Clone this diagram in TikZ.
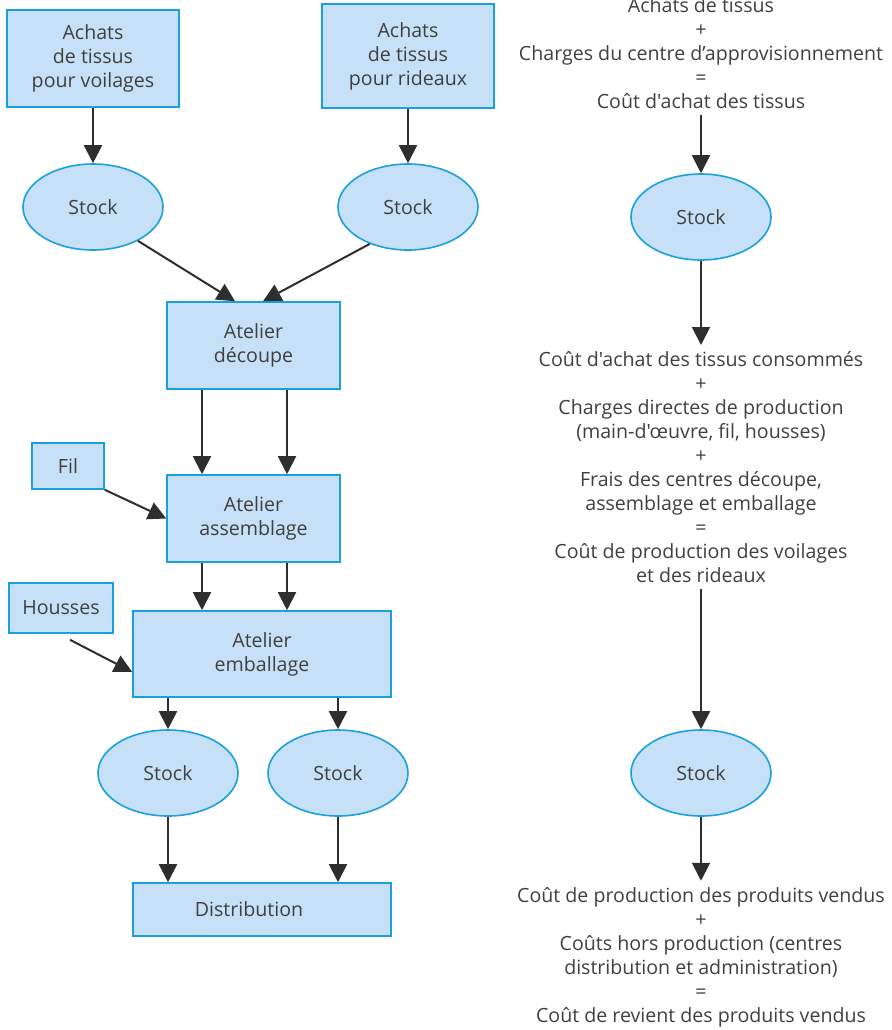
\documentclass[tikz,border=0pt]{standalone}
\usepackage{fontspec}
\setmainfont{Open Sans}[Ligatures=TeXOff]
\usepackage{tikz}
\usetikzlibrary{arrows.meta,positioning,calc,shapes.geometric}

\definecolor{boxfill}{HTML}{C6E1F7}
\definecolor{boxline}{HTML}{1AA0DD}
\definecolor{inkgray}{HTML}{404040}
\definecolor{arrowgray}{HTML}{2E2E2E}
\newcommand{\txtfont}{\fontsize{9.8}{12}\selectfont}

\begin{document}
\begin{tikzpicture}[
    x=0.5pt, y=-0.5pt,
    block/.style={rectangle, draw=boxline, fill=boxfill, line width=0.8pt,
                  align=center, font=\txtfont, text=inkgray, inner sep=0pt},
    stock/.style={ellipse, draw=boxline, fill=boxfill, line width=0.8pt,
                  minimum width=70pt, minimum height=43pt, inner sep=0pt,
                  font=\txtfont, text=inkgray},
    calcline/.style={align=center, font=\txtfont, text=inkgray, inner sep=3pt},
    arrow/.style={-{Triangle[length=9pt,width=9pt]}, line width=1pt, draw=arrowgray},
]
    \useasboundingbox (0,0) rectangle (891,1030);

    % Purchases
    \node[block, minimum width=86pt, minimum height=48.5pt] (voil) at (93,58.5)
        {Achats\\de tissus\\pour voilages};
    \node[block, minimum width=86pt, minimum height=52pt] (rid) at (408,56)
        {Achats\\de tissus\\pour rideaux};

    % Raw stocks
    \node[stock] (stV) at (93,207) {Stock};
    \node[stock] (stR) at (408,207) {Stock};

    % Workshops
    \node[block, minimum width=86.5pt, minimum height=43.5pt] (dec) at (253.5,345.5)
        {Atelier\\découpe};
    \node[block, minimum width=86.5pt, minimum height=43.5pt] (ass) at (253.5,518.5)
        {Atelier\\assemblage};
    \node[block, minimum width=129pt, minimum height=43pt] (emb) at (262,654)
        {Atelier\\emballage};

    % Direct inputs
    \node[block, minimum width=36pt, minimum height=23pt] (fil) at (68,466) {Fil};
    \node[block, minimum width=52pt, minimum height=25pt] (hou) at (61,608) {Housses};

    % Finished stocks
    \node[stock] (stA) at (168,773) {Stock};
    \node[stock] (stB) at (338,773) {Stock};

    % Distribution
    \node[block, minimum width=129pt, minimum height=26.5pt] (dist) at (262,909.5)
        {Distribution\hspace{13pt}};

    % Cost chain (right column)
    \node[calcline] (txtA) at (701,53.5)
        {Achats de tissus\\+\\Charges du centre d’approvisionnement\\=\\Coût d'achat des tissus};
    \node[stock] (stT) at (701,217) {Stock};
    \node[calcline] (txtB) at (701,467)
        {Coût d'achat des tissus consommés\\+\\Charges directes de production\\(main-d'œuvre, fil, housses)\\+\\Frais des centres découpe,\\assemblage et emballage\\=\\Coût de production des voilages\\et des rideaux};
    \node[stock] (stU) at (701,773) {Stock};
    \node[calcline] (txtC) at (701,957)
        {Coût de production des produits vendus\\+\\Coûts hors production (centres\\distribution et administration)\\=\\Coût de revient des produits vendus};

    % Columns of the double arrows
    \coordinate (colL) at (202,0);
    \coordinate (colR) at (287,0);

    % Arrows
    \draw[arrow] (voil) -- (stV);
    \draw[arrow] (rid) -- (stR);
    \draw[arrow] (stV.323) -- ($(dec.north)+(-18.5,0)$);
    \draw[arrow] (stR.224) -- ($(dec.north)+(9.5,0)$);
    \draw[arrow] (dec.south -| colL) -- (ass.north -| colL);
    \draw[arrow] (dec.south -| colR) -- (ass.north -| colR);
    \draw[arrow] (fil.south east) -- (ass.west);
    \draw[arrow] (ass.south -| colL) -- (emb.north -| colL);
    \draw[arrow] (ass.south -| colR) -- (emb.north -| colR);
    \draw[arrow] ($(hou.south)+(9,6)$) -- ($(emb.west)+(0,18)$);
    \draw[arrow] (emb.south -| stA) -- (stA.north);
    \draw[arrow] (emb.south -| stB) -- (stB.north);
    \draw[arrow] (stA.south) -- (dist.north -| stA);
    \draw[arrow] (stB.south) -- (dist.north -| stB);

    \draw[arrow] (txtA) -- (stT);
    \draw[arrow] (stT) -- (txtB);
    \draw[arrow] (txtB) -- (stU);
    \draw[arrow] (stU) -- (txtC);
\end{tikzpicture}
\end{document}
